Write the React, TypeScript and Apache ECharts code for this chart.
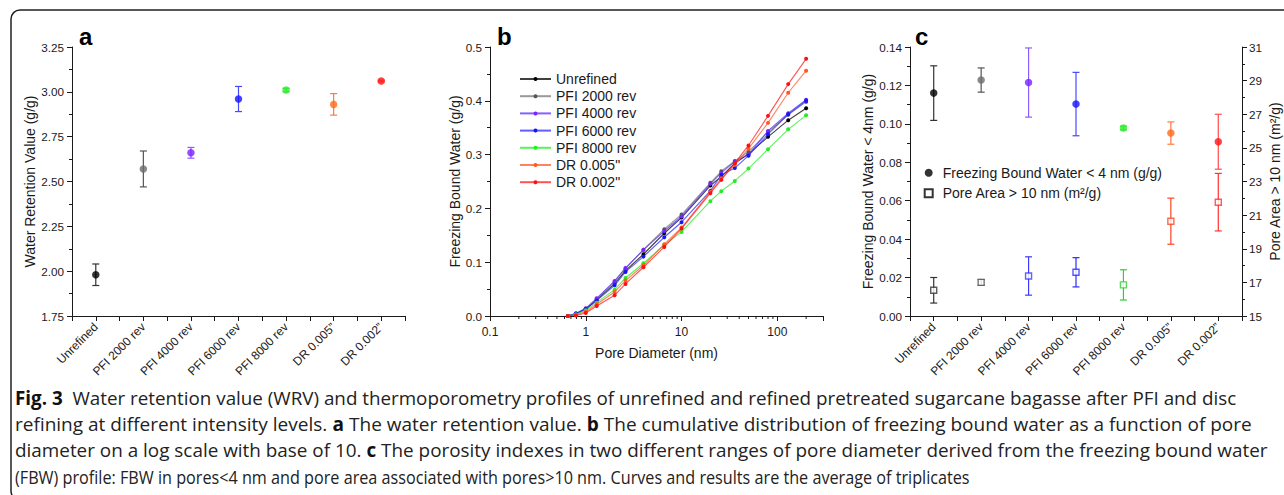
import React, { useEffect, useRef } from 'react';
import * as echarts from 'echarts';

// ---------- data ----------
const categories = ['Unrefined', 'PFI 2000 rev', 'PFI 4000 rev', 'PFI 6000 rev', 'PFI 8000 rev', 'DR 0.005\u201d', 'DR 0.002\u201d'];
const markerColors = ['#000000', '#6b6b6b', '#7a22ff', '#1414ff', '#2bef2b', '#ff6a1a', '#ff1414'];
const errColors = ['#333333', '#555555', '#8a5cff', '#4848ff', '#44d444', '#ff7a45', '#ff4d4d'];
const squareColors = ['#333333', '#555555', '#3a3aff', '#2a2aff', '#33cc33', '#ff4422', '#ff3030'];

// panel a: water retention value
const wrvMean = [1.98, 2.57, 2.66, 2.96, 3.01, 2.93, 3.06];
const wrvErr = [0.06, 0.10, 0.03, 0.07, 0.01, 0.06, 0.005];

// panel b: cumulative freezing bound water
const poreDiameter = [0.65, 0.79, 1.0, 1.3, 2.0, 2.6, 4.0, 6.6, 10, 20, 26, 36, 50, 80, 130, 200];
const fbwUnrefined = [0, 0.004, 0.0124, 0.0298, 0.0602, 0.0844, 0.1148, 0.1538, 0.183, 0.2425, 0.259, 0.284, 0.301, 0.333, 0.364, 0.386];
const fbwPfi2000 = [0, 0.004, 0.0136, 0.0316, 0.0633, 0.088, 0.1234, 0.1613, 0.1886, 0.2475, 0.269, 0.288, 0.305, 0.342, 0.374, 0.398];
const fbwPfi4000 = [0, 0.005, 0.0143, 0.0329, 0.0651, 0.0893, 0.1228, 0.158, 0.185, 0.2457, 0.266, 0.287, 0.300, 0.344, 0.377, 0.402];
const fbwPfi6000 = [0, 0.004, 0.013, 0.0285, 0.0571, 0.0819, 0.1104, 0.1464, 0.1743, 0.2326, 0.262, 0.275, 0.298, 0.338, 0.375, 0.400];
const fbwPfi8000 = [0, 0.003, 0.0105, 0.0248, 0.049, 0.0707, 0.098, 0.132, 0.1563, 0.2134, 0.232, 0.251, 0.274, 0.310, 0.347, 0.373];
const fbwDr005 = [0, 0.002, 0.008, 0.0217, 0.0447, 0.0658, 0.0943, 0.1334, 0.1644, 0.2308, 0.256, 0.281, 0.311, 0.359, 0.415, 0.456];
const fbwDr002 = [0, 0.001, 0.0056, 0.0186, 0.0385, 0.0596, 0.0906, 0.1284, 0.1625, 0.2283, 0.253, 0.284, 0.317, 0.372, 0.431, 0.478];
const legendNamesB = ['Unrefined', 'PFI 2000 rev', 'PFI 4000 rev', 'PFI 6000 rev', 'PFI 8000 rev', 'DR 0.005"', 'DR 0.002"'];
const lineColorsB = ['#000000', '#777777', '#5a2cff', '#2a2aff', '#22ee22', '#ff5a2a', '#ff1a1a'];
const markerColorsB = ['#000000', '#555555', '#7a22ff', '#1414ff', '#22ee22', '#ff5a1a', '#ff1010'];
const logMinorTicks = [0.2, 0.3, 0.4, 0.5, 0.6, 0.7, 0.8, 0.9, 2, 3, 4, 5, 6, 7, 8, 9, 20, 30, 40, 50, 60, 70, 80, 90, 200];

// panel c: porosity indexes
const fbw4Mean = [0.116, 0.1228, 0.1215, 0.1103, 0.0978, 0.0952, 0.0907];
const fbw4Err = [0.0142, 0.0063, 0.018, 0.0165, 0.001, 0.0058, 0.0143];
const poreAreaMean = [16.53, 17.0, 17.38, 17.6, 16.85, 20.64, 21.77];
const poreAreaErr = [0.76, 0.17, 1.14, 0.87, 0.9, 1.37, 1.71];
const legendNamesC = ['Freezing Bound Water < 4 nm (g/g)', 'Pore Area > 10 nm (m\u00b2/g)'];

// caption
const captionLines = [
  { y: 398, end: 1237, segs: [{ t: 'Fig. 3', b: true }, { t: '  Water retention value (WRV) and thermoporometry profiles of unrefined and refined pretreated sugarcane bagasse after PFI and disc' }] },
  { y: 424, end: 1253, segs: [{ t: 'refining at different intensity levels. ' }, { t: 'a', b: true }, { t: ' The water retention value. ' }, { t: 'b', b: true }, { t: ' The cumulative distribution of freezing bound water as a function of pore' }] },
  { y: 450, end: 1268, segs: [{ t: 'diameter on a log scale with base of 10. ' }, { t: 'c', b: true }, { t: ' The porosity indexes in two different ranges of pore diameter derived from the freezing bound water' }] },
  { y: 476, end: 970, segs: [{ t: '(FBW) profile: FBW in pores<4 nm and pore area associated with pores>10 nm. Curves and results are the average of triplicates' }] },
];

const FONT = 'Liberation Sans, Arial, sans-serif';
const CAP_FONT = 'Open Sans';
const CAP_SIZE = 19;
const INK = '#1a1a1a';

function errRender(colors: string[]) {
  return (params: any, api: any) => {
    const x = api.value(0);
    const lo = api.coord([x, api.value(1)]);
    const hi = api.coord([x, api.value(2)]);
    const c = colors[params.dataIndex];
    const hw = 3.5;
    const st = { stroke: c, lineWidth: 1.2 };
    return {
      type: 'group',
      children: [
        { type: 'line', shape: { x1: lo[0], y1: lo[1], x2: hi[0], y2: hi[1] }, style: st },
        { type: 'line', shape: { x1: lo[0] - hw, y1: lo[1], x2: lo[0] + hw, y2: lo[1] }, style: st },
        { type: 'line', shape: { x1: hi[0] - hw, y1: hi[1], x2: hi[0] + hw, y2: hi[1] }, style: st },
      ],
    };
  };
}

const axisLineStyle = { show: true, onZero: false, lineStyle: { color: INK, width: 1 } };
const tickStyle = { show: true, length: 5, lineStyle: { color: INK } };
const minorStyle = { show: true, splitNumber: 2, length: 3, lineStyle: { color: INK } };
const labelBase = { color: INK, fontFamily: FONT, fontSize: 11.7 };
const nameStyle = { color: INK, fontFamily: FONT, fontSize: 14 };

function catAxis(gridIndex: number) {
  return {
    type: 'value', gridIndex, min: 0, max: 14, interval: 1,
    axisLine: axisLineStyle, axisTick: tickStyle, splitLine: { show: false },
    axisLabel: {
      ...labelBase, fontSize: 12, rotate: 45, margin: 9,
      formatter: (v: number) => (Math.round(v) % 2 === 1 ? categories[(Math.round(v) - 1) / 2] : ''),
    },
  };
}

export default function App() {
  const ref = useRef<HTMLDivElement>(null);
  useEffect(() => {
    if (!ref.current) return;
    const chart = echarts.init(ref.current, undefined, { renderer: 'svg' });

    const ctx = document.createElement('canvas').getContext('2d')!;
    const captionGraphics = captionLines.map((ln) => {
      let w = 0;
      for (const s of ln.segs) {
        ctx.font = `${(s as any).b ? 'bold ' : ''}${CAP_SIZE}px "${CAP_FONT}"`;
        w += ctx.measureText(s.t).width;
      }
      const scale = w > 0 ? (ln.end - 15) / w : 1;
      const text = ln.segs.map((s) => `{${(s as any).b ? 'b' : 'n'}|${s.t}}`).join('');
      return {
        type: 'text', x: 15, y: ln.y, scaleX: scale, scaleY: 1, silent: true,
        style: {
          text, x: 0, y: 0, verticalAlign: 'middle', align: 'left',
          rich: {
            n: { fontFamily: CAP_FONT, fontSize: CAP_SIZE, fill: '#222', fontWeight: 'normal' },
            b: { fontFamily: CAP_FONT, fontSize: CAP_SIZE, fill: '#111', fontWeight: 'bold' },
          },
        },
      };
    });

    const xi = categories.map((_, i) => 2 * i + 1);
    const bSeriesData = [fbwUnrefined, fbwPfi2000, fbwPfi4000, fbwPfi6000, fbwPfi8000, fbwDr005, fbwDr002];

    const option: any = {
      animation: false,
      backgroundColor: '#ffffff',
      grid: [
        { left: 72, top: 47, width: 333, height: 269 },
        { left: 490, top: 47, width: 333, height: 269 },
        { left: 910, top: 47, width: 332, height: 269 },
      ],
      xAxis: [
        catAxis(0),
        {
          type: 'value', gridIndex: 1, min: -1, max: Math.log10(300), interval: 1,
          axisLine: axisLineStyle, axisTick: tickStyle, splitLine: { show: false },
          axisLabel: {
            ...labelBase, fontSize: 12, margin: 10,
            formatter: (v: number) => {
              const r = Math.round(v);
              if (Math.abs(v - r) > 1e-6) return '';
              return r < 0 ? '0.1' : String(Math.pow(10, r));
            },
          },
          name: 'Pore Diameter (nm)', nameLocation: 'middle', nameGap: 30, nameTextStyle: nameStyle,
        },
        catAxis(2),
      ],
      yAxis: [
        {
          type: 'value', gridIndex: 0, min: 1.75, max: 3.25, interval: 0.25,
          axisLine: axisLineStyle, axisTick: tickStyle, minorTick: minorStyle, splitLine: { show: false },
          axisLabel: { ...labelBase, margin: 8, formatter: (v: number) => v.toFixed(2) },
          name: 'Water Retention Value (g/g)', nameLocation: 'middle', nameGap: 35, nameTextStyle: nameStyle,
        },
        {
          type: 'value', gridIndex: 1, min: 0, max: 0.5, interval: 0.1,
          axisLine: axisLineStyle, axisTick: tickStyle, minorTick: minorStyle, splitLine: { show: false },
          axisLabel: { ...labelBase, margin: 8, formatter: (v: number) => v.toFixed(1) },
          name: 'Freezing Bound Water (g/g)', nameLocation: 'middle', nameGap: 28, nameTextStyle: nameStyle,
        },
        {
          type: 'value', gridIndex: 2, min: 0, max: 0.14, interval: 0.02,
          axisLine: axisLineStyle, axisTick: tickStyle, minorTick: minorStyle, splitLine: { show: false },
          axisLabel: { ...labelBase, margin: 8, formatter: (v: number) => v.toFixed(2) },
          name: 'Freezing Bound Water < 4nm (g/g)', nameLocation: 'middle', nameGap: 35, nameTextStyle: nameStyle,
        },
        {
          type: 'value', gridIndex: 2, position: 'right', min: 15, max: 31, interval: 2,
          axisLine: axisLineStyle, axisTick: tickStyle, minorTick: minorStyle, splitLine: { show: false },
          axisLabel: { ...labelBase, margin: 7 },
          name: 'Pore Area > 10 nm (m\u00b2/g)', nameLocation: 'middle', nameGap: 26, nameTextStyle: nameStyle,
        },
      ],
      legend: [
        {
          data: legendNamesB, left: 519, top: 72, padding: 0, orient: 'vertical', itemWidth: 31, itemHeight: 5, itemGap: 3.2,
          selectedMode: false, textStyle: { color: INK, fontFamily: FONT, fontSize: 14 },
        },
        {
          data: [
            { name: legendNamesC[0], icon: 'circle' },
            { name: legendNamesC[1], icon: 'path://M0,0L10,0L10,10L0,10Z' },
          ],
          left: 923.7, top: 165.7, padding: 0, orient: 'vertical', itemWidth: 18, itemHeight: 8, itemGap: 6.6,
          selectedMode: false, textStyle: { color: INK, fontFamily: FONT, fontSize: 14 },
        },
      ],
      series: [
        // panel a
        {
          type: 'custom', xAxisIndex: 0, yAxisIndex: 0, renderItem: errRender(errColors), encode: { x: 0, y: [1, 2] },
          data: xi.map((x, i) => [x, wrvMean[i] - wrvErr[i], wrvMean[i] + wrvErr[i]]), z: 2,
        },
        {
          type: 'scatter', xAxisIndex: 0, yAxisIndex: 0, symbol: 'circle', symbolSize: 7.5, z: 3,
          data: xi.map((x, i) => ({ value: [x, wrvMean[i]], itemStyle: { color: markerColors[i] } })),
        },
        // panel b minor ticks
        {
          type: 'custom', xAxisIndex: 1, yAxisIndex: 1, clip: false,
          renderItem: (params: any, api: any) => {
            const p = api.coord([api.value(0), 0]);
            return { type: 'line', shape: { x1: p[0], y1: p[1], x2: p[0], y2: p[1] + 3 }, style: { stroke: INK, lineWidth: 1 } };
          },
          data: logMinorTicks.map((v) => [Math.log10(v)]),
        },
        // panel b lines
        ...bSeriesData.map((vals, k) => ({
          type: 'line', name: legendNamesB[k], xAxisIndex: 1, yAxisIndex: 1,
          symbol: 'circle', symbolSize: 4, showSymbol: true,
          lineStyle: { color: lineColorsB[k], width: 1.1, opacity: 0.75 },
          itemStyle: { color: markerColorsB[k] },
          data: poreDiameter.map((d, i) => [Math.log10(d), vals[i]]),
          z: 3 + k,
        })),
        // panel c
        {
          type: 'custom', xAxisIndex: 2, yAxisIndex: 2, renderItem: errRender(errColors), encode: { x: 0, y: [1, 2] },
          data: xi.map((x, i) => [x, fbw4Mean[i] - fbw4Err[i], fbw4Mean[i] + fbw4Err[i]]), z: 2,
        },
        {
          type: 'custom', xAxisIndex: 2, yAxisIndex: 3, renderItem: errRender(squareColors), encode: { x: 0, y: [1, 2] },
          data: xi.map((x, i) => [x, poreAreaMean[i] - poreAreaErr[i], poreAreaMean[i] + poreAreaErr[i]]), z: 2,
        },
        {
          type: 'scatter', name: legendNamesC[0], xAxisIndex: 2, yAxisIndex: 2,
          symbol: 'circle', symbolSize: 7.5, z: 3, itemStyle: { color: '#000' },
          data: xi.map((x, i) => ({ value: [x, fbw4Mean[i]], itemStyle: { color: markerColors[i] } })),
        },
        {
          type: 'scatter', name: legendNamesC[1], xAxisIndex: 2, yAxisIndex: 3,
          symbol: 'rect', symbolSize: 6, z: 3, itemStyle: { color: '#fff', borderColor: '#000', borderWidth: 1.4 },
          data: xi.map((x, i) => ({ value: [x, poreAreaMean[i]], itemStyle: { color: '#fff', borderColor: squareColors[i], borderWidth: 1.4 } })),
        },
      ],
      graphic: [
        {
          type: 'rect', silent: true, z: 100,
          shape: { x: 11, y: 10, width: 1300, height: 490, r: 9 },
          style: { fill: 'none', stroke: '#222', lineWidth: 1.5 },
        },
        { type: 'text', x: 79, y: 36, style: { text: 'a', fontFamily: FONT, fontSize: 24, fontWeight: 'bold', fill: '#000', verticalAlign: 'middle' } },
        { type: 'text', x: 497, y: 36, style: { text: 'b', fontFamily: FONT, fontSize: 24, fontWeight: 'bold', fill: '#000', verticalAlign: 'middle' } },
        { type: 'text', x: 915, y: 36, style: { text: 'c', fontFamily: FONT, fontSize: 24, fontWeight: 'bold', fill: '#000', verticalAlign: 'middle' } },
        ...captionGraphics,
      ],
    };
    chart.setOption(option);
    return () => chart.dispose();
  }, []);
  return (
    <div
      ref={ref}
      style={{ position: 'absolute', left: 0, top: 0, width: 1284, height: 495, background: '#fff' }}
    />
  );
}
